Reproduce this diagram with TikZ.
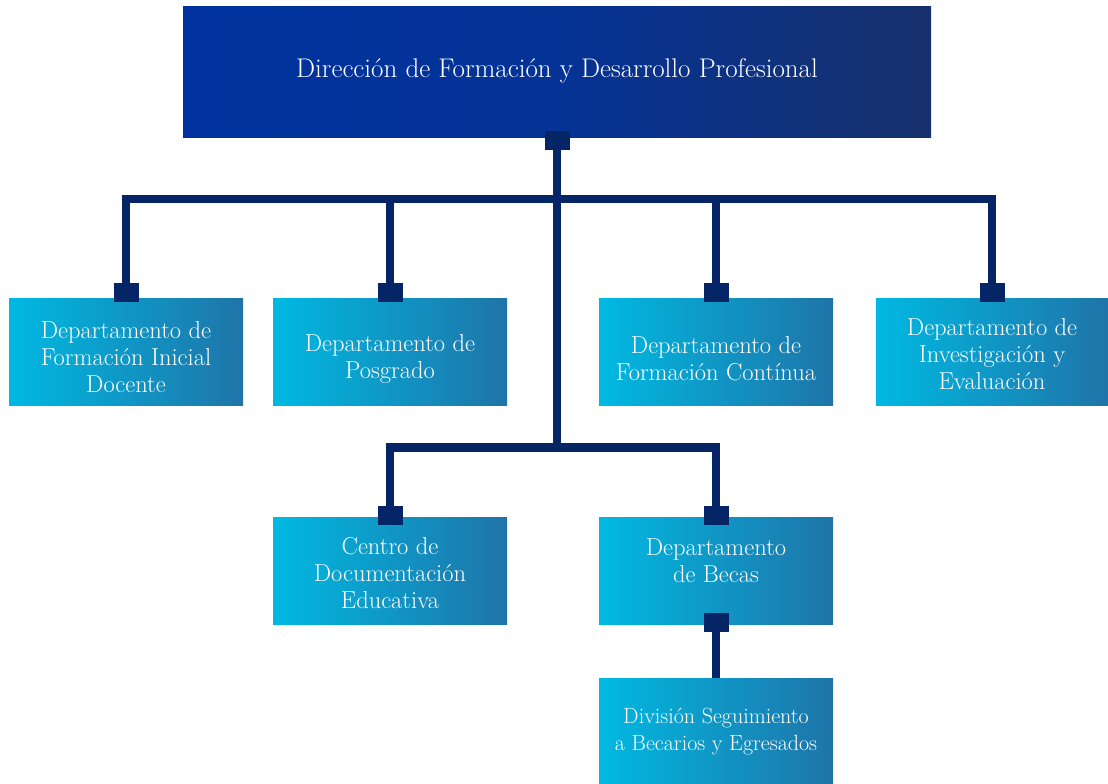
\documentclass[tikz,border=0pt]{standalone}
\usepackage{fontspec}
\usetikzlibrary{calc}
\definecolor{navy}{HTML}{062567}
\definecolor{topL}{HTML}{0033A0}
\definecolor{topR}{HTML}{17316C}
\definecolor{boxL}{HTML}{00B9E2}
\definecolor{boxR}{HTML}{1F74A8}
\tikzset{
  topbox/.style={minimum width=748pt, minimum height=130pt, inner sep=0pt,
    left color=topL, right color=topR, middle color=topL!80!topR},
  unitbox/.style={minimum width=234pt, minimum height=107pt, inner sep=0pt,
    left color=boxL, right color=boxR},
  boxtext/.style={inner sep=0pt, align=center, text=white, font=\fontsize{24.5}{27}\selectfont},
  titletext/.style={inner sep=0pt, align=center, text=white, font=\fontsize{27}{30}\selectfont},
  conn/.style={draw=navy, line width=8.5pt, line join=miter},
}
\begin{document}
\begin{tikzpicture}[x=1pt,y=-1pt]
\useasboundingbox (0,0) rectangle (1108,784);
\node[topbox] (dir) at (557,72) {};
\node[unitbox] (d1) at (126,351.5) {};
\node[unitbox] (d2) at (390,351.5) {};
\node[unitbox] (d3) at (716,351.5) {};
\node[unitbox, minimum width=232pt] (d4) at (992,351.5) {};
\node[unitbox] (centro) at (390,570.5) {};
\node[unitbox] (becas) at (716,570.5) {};
\node[unitbox, minimum height=106pt] (div) at (716,731) {};
% texts
\node[titletext] (dirt) at ($(dir)+(0,-1)$) {Dirección de Formación y Desarrollo Profesional};
\node[boxtext] (d1t) at ($(d1)+(0,6)$) {Departamento de\\Formación Inicial\\Docente};
\node[boxtext] (d2t) at ($(d2)+(0,7)$) {Departamento de\\Posgrado};
\node[boxtext] (d3t) at ($(d3)+(0,7)$) {Departamento de\\Formación Contínua};
\node[boxtext] (d4t) at ($(d4)+(0,3)$) {Departamento de\\Investigación y\\Evaluación};
\node[boxtext] (centrot) at ($(centro)+(0,3)$) {Centro de\\Documentación\\Educativa};
\node[boxtext] (becast) at ($(becas)+(0,-9.5)$) {Departamento\\de Becas};
\node[boxtext, font=\fontsize{22}{27}\selectfont] (divt) at ($(div)+(0,0.5)$) {División Seguimiento\\a Becarios y Egresados};
\coordinate (bus1) at (557,199);
\coordinate (bus2) at (557,447.5);
% connectors
\draw[conn] (dir.south) -- (bus2);
\draw[conn] (d1.north) -- (d1.north |- bus1) -- (d4.north |- bus1) -- (d4.north);
\draw[conn] (d2.north) -- (d2.north |- bus1);
\draw[conn] (d3.north) -- (d3.north |- bus1);
\draw[conn] (centro.north) -- (centro.north |- bus2) -- (becas.north |- bus2) -- (becas.north);
\draw[conn] (becas.south) -- (div.north);
% square tabs
\fill[navy] (dir.south) ++(-12.5,-6) rectangle ++(25,19);
\foreach \n in {d1,d2,d3,d4}{\fill[navy] (\n.north) ++(-12.5,-15) rectangle ++(25,19);}
\foreach \n in {centro,becas}{\fill[navy] (\n.north) ++(-12.5,-11) rectangle ++(25,19);}
\fill[navy] (becas.south) ++(-12.5,-11) rectangle ++(25,19);
\end{tikzpicture}
\end{document}
